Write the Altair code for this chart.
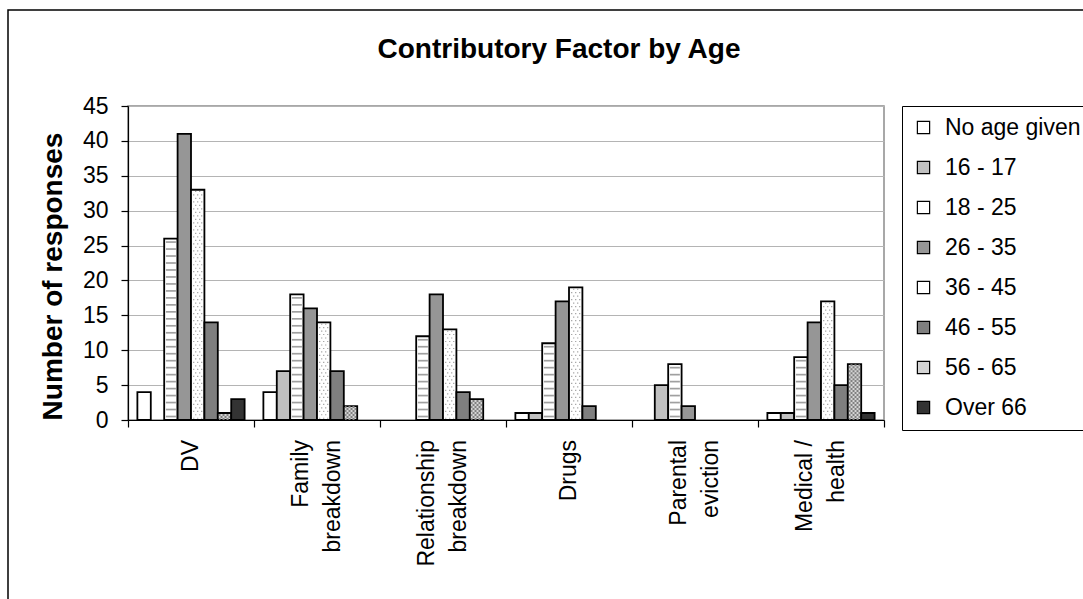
import altair as alt
import pandas as pd

# Contributing factors (multi-line axis labels use "\n")
categories = [
    "DV",
    "Family\nbreakdown",
    "Relationship\nbreakdown",
    "Drugs",
    "Parental\neviction",
    "Medical /\nhealth",
]
age_groups = ["No age given", "16 - 17", "18 - 25", "26 - 35",
              "36 - 45", "46 - 55", "56 - 65", "Over 66"]

# Number of responses per factor, one list per age group
no_age = [4, 4, 0, 1, 0, 1]
age_16_17 = [0, 7, 0, 1, 5, 1]
age_18_25 = [26, 18, 12, 11, 8, 9]
age_26_35 = [41, 16, 18, 17, 2, 14]
age_36_45 = [33, 14, 13, 19, 0, 17]
age_46_55 = [14, 7, 4, 2, 0, 5]
age_56_65 = [1, 2, 3, 0, 0, 8]
over_66 = [3, 0, 0, 0, 0, 1]

y_ticks = [0, 5, 10, 15, 20, 25, 30, 35, 40, 45]

series = [no_age, age_16_17, age_18_25, age_26_35,
          age_36_45, age_46_55, age_56_65, over_66]
fills = ["#ffffff", "#c0c0c0", "#ffffff", "#969696",
         "#ffffff", "#7f7f7f", "#d4d4d4", "#333333"]

FONT = "Liberation Sans"
PLOT_W, PLOT_H = 756, 314

rows = []
for i, factor in enumerate(categories):
    for age, vals in zip(age_groups, series):
        rows.append({"factor": factor, "age": age, "responses": vals[i]})
df = pd.DataFrame(rows)

# hatch lines for the 18 - 25 bars (one stripe per unit)
stripes = pd.DataFrame([
    {"factor": f, "age": "18 - 25", "level": k + 0.5}
    for f, v in zip(categories, age_18_25) for k in range(int(v))
])
# dot rows for the 36 - 45 bars (two rows per unit, staggered)
dots = pd.DataFrame([
    {"factor": f, "age": "36 - 45", "level": j * 0.5 + 0.25, "row": j % 2}
    for f, v in zip(categories, age_36_45) for j in range(int(v * 2))
])
# checker rows for the 56 - 65 bars (3.5 rows per unit)
checks = pd.DataFrame([
    {"factor": f, "age": "56 - 65", "level": (j + 0.5) / 3.5, "row": j % 2}
    for f, v in zip(categories, age_56_65) for j in range(int(v * 3.5))
])
labels_df = pd.DataFrame({
    "factor": categories,
    "lines": [c.count("\n") + 1 for c in categories],
})

x_enc = alt.X(
    "factor:N", sort=categories, title=None,
    scale=alt.Scale(domain=categories, paddingInner=0, paddingOuter=0),
    axis=alt.Axis(
        labels=False, tickBand="extent", tickSize=7, tickColor="black",
        tickWidth=1.2, domainColor="black", domainWidth=1.2, grid=False,
    ),
)
xo_enc = alt.XOffset(
    "age:N", sort=age_groups,
    scale=alt.Scale(domain=age_groups, paddingInner=0, paddingOuter=0.7),
)
y_axis = alt.Axis(
    values=y_ticks, labelFontSize=23, labelPadding=13,
    labelOverlap=False, labelFlush=False,
    labelColor="black", tickSize=7, tickColor="black", tickWidth=1.2,
    domainColor="black", domainWidth=1.2,
    gridColor="#b4b4b4", gridWidth=1.2,
    titleFontSize=28, titleFontWeight="bold", titleColor="black",
    titleAngle=270, titleAlign="center", titleBaseline="middle",
    titleX=-75, titleY=170,
)
y_scale = alt.Scale(domain=[0, 45], nice=False)


def y_enc(field):
    return alt.Y(field, scale=y_scale, axis=y_axis, title="Number of responses")


bars = alt.Chart(df).transform_filter(
    alt.datum.responses > 0
).mark_bar(stroke="black", strokeWidth=1.8).encode(
    x=x_enc,
    xOffset=xo_enc,
    y=y_enc("responses:Q"),
    color=alt.Color(
        "age:N", sort=age_groups,
        scale=alt.Scale(domain=age_groups, range=fills),
        legend=alt.Legend(
            title=None, orient="none", legendX=774, legendY=0,
            symbolType="square", symbolSize=150, symbolStrokeColor="black",
            symbolStrokeWidth=1.2, labelFontSize=23, labelColor="black",
            labelOffset=10, rowPadding=16, padding=10,
            strokeColor="black", fillColor="white",
        ),
    ),
)

stripe_layer = alt.Chart(stripes).mark_tick(
    orient="horizontal", size=10, thickness=1.7, color="#a0a0a0", opacity=1
).encode(x=x_enc, xOffset=xo_enc, y=y_enc("level:Q"))

dot_a = "M-0.92,-0.12h0.24v0.24h-0.24z M-0.12,-0.12h0.24v0.24h-0.24z M0.68,-0.12h0.24v0.24h-0.24z"
dot_b = "M-0.52,-0.12h0.24v0.24h-0.24z M0.28,-0.12h0.24v0.24h-0.24z"
check_a = ("M-0.9,-0.167h0.233v0.333h-0.233z M-0.333,-0.167h0.333v0.333h-0.333z "
           "M0.333,-0.167h0.333v0.333h-0.333z")
check_b = ("M-0.667,-0.167h0.333v0.333h-0.333z M0,-0.167h0.333v0.333h-0.333z "
           "M0.667,-0.167h0.233v0.333h-0.233z")


def pattern_layer(data, parity, shape, colour):
    return alt.Chart(data[data["row"] == parity]).mark_point(
        shape=shape, filled=True, size=100 if data is dots else 144,
        color=colour, opacity=1, strokeWidth=0,
    ).encode(x=x_enc, xOffset=xo_enc, y=y_enc("level:Q"))


# factor names under the axis, rotated; two-line names centred on their group
def label_layer(n_lines, shift):
    return alt.Chart(labels_df).transform_filter(
        alt.datum.lines == n_lines
    ).mark_text(
        angle=270, align="right", baseline="middle", fontSize=23, font=FONT,
        color="black", lineBreak="\n", lineHeight=32, dy=shift,
    ).encode(
        x=x_enc,
        y=alt.value(PLOT_H + 20),
        text="factor:N",
    )


frame = alt.Chart(pd.DataFrame({"k": [0]})).mark_rect(
    filled=False, stroke="black", strokeWidth=1.5
).encode(
    x=alt.value(-120), x2=alt.value(1100),
    y=alt.value(-96), y2=alt.value(620),
)

chart = alt.layer(
    frame, bars, stripe_layer,
    pattern_layer(dots, 0, dot_a, "#a0a0a0"),
    pattern_layer(dots, 1, dot_b, "#a0a0a0"),
    pattern_layer(checks, 0, check_a, "#808080"),
    pattern_layer(checks, 1, check_b, "#808080"),
    label_layer(1, 0), label_layer(2, -16),
).properties(
    width=PLOT_W, height=PLOT_H,
    autosize=alt.AutoSizeParams(type="none"),
    padding={"left": 128, "top": 106, "right": 199, "bottom": 179},
    title=alt.TitleParams(
        "Contributory Factor by Age", fontSize=28, font=FONT,
        fontWeight="bold", color="black", anchor="middle", frame="group",
        dx=53, offset=-55,
    ),
).configure(
    font=FONT, background="white",
).configure_view(
    stroke="#8c8c8c", strokeWidth=1.5,
).configure_axis(
    labelFont=FONT, titleFont=FONT,
).configure_legend(
    labelFont=FONT,
)

chart.save("out.html", embed_options={"renderer": "svg", "actions": False})
